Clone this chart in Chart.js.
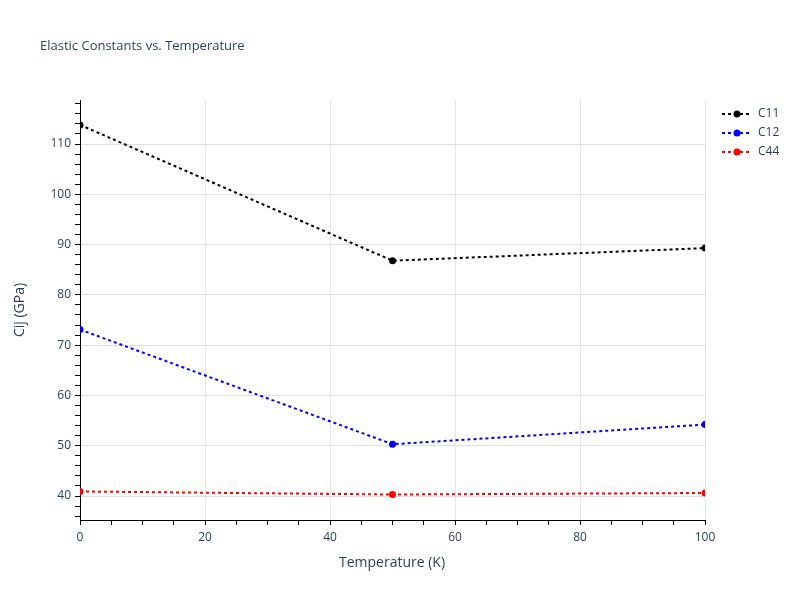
<!DOCTYPE html>
<html>
<head>
<meta charset="utf-8">
<script src="https://cdn.jsdelivr.net/npm/chart.js@4/dist/chart.umd.min.js"></script>
<style>
  html, body { margin: 0; padding: 0; background: #fff; }
  #wrap { width: 800px; height: 600px; position: relative; }
</style>
</head>
<body>
<div id="wrap"><canvas id="chart"></canvas></div>
<script>
// data
const temperatures = [0, 50, 100];
const c11 = [113.8, 86.8, 89.3];
const c12 = [73.1, 50.3, 54.2];
const c44 = [40.9, 40.3, 40.6];
const seriesNames = ["C11", "C12", "C44"];
const seriesColors = ["#000000", "#0000ff", "#ff0000"];

const titleText = "Elastic Constants vs. Temperature";
const xTitle = "Temperature (K)";
const yTitle = "Cij (GPa)";
const textColor = "#2a3f5f";
const fontFamily = "'Open Sans', 'Noto Sans', sans-serif";

function MakeTicks(from, to, step) {
  const out = [];
  for (let v = from; v <= to + 1e-9; v += step) out.push({ value: v });
  return out;
}

// legend + titles drawn by hand so they sit where plotly put them
const extrasPlugin = {
  id: "extras",
  afterDraw(chart) {
    const ctx = chart.ctx;
    ctx.save();
    ctx.fillStyle = textColor;
    ctx.textBaseline = "middle";
    ctx.font = "13px " + fontFamily;
    ctx.textAlign = "left";
    ctx.fillText(titleText, 40, 46);

    ctx.font = "14px " + fontFamily;
    ctx.textAlign = "center";
    ctx.fillText(xTitle, 392, 563);
    ctx.translate(20, 310);
    ctx.rotate(-Math.PI / 2);
    ctx.fillText(yTitle, 0, 0);
    ctx.restore();

    // legend
    ctx.save();
    chart.data.datasets.forEach((ds, i) => {
      const y = 114 + i * 19;
      ctx.strokeStyle = ds.borderColor;
      ctx.lineWidth = 2;
      ctx.setLineDash([3, 3]);
      ctx.beginPath();
      ctx.moveTo(722, y);
      ctx.lineTo(752, y);
      ctx.stroke();
      ctx.setLineDash([]);
      ctx.fillStyle = ds.borderColor;
      ctx.beginPath();
      ctx.arc(737, y, 3.5, 0, Math.PI * 2);
      ctx.fill();
      ctx.fillStyle = textColor;
      ctx.font = "12px " + fontFamily;
      ctx.textAlign = "left";
      ctx.textBaseline = "middle";
      ctx.fillText(ds.label, 758, y);
    });
    ctx.restore();
  },
};

const datasets = [c11, c12, c44].map((values, i) => ({
  label: seriesNames[i],
  data: temperatures.map((t, j) => ({ x: t, y: values[j] })),
  borderColor: seriesColors[i],
  backgroundColor: seriesColors[i],
  borderWidth: 2,
  borderDash: [3, 3],
  pointRadius: 3.5,
  pointHoverRadius: 3.5,
  pointBorderWidth: 0,
  tension: 0,
  fill: false,
}));

new Chart(document.getElementById("chart").getContext("2d"), {
  type: "line",
  data: { datasets },
  plugins: [extrasPlugin],
  options: {
    responsive: true,
    maintainAspectRatio: false,
    animation: false,
    layout: { padding: { top: 100, right: 95, left: 0, bottom: 0 } },
    plugins: { legend: { display: false }, tooltip: { enabled: false } },
    scales: {
      x: {
        type: "linear",
        min: 0,
        max: 100,
        afterBuildTicks: (scale) => { scale.ticks = MakeTicks(0, 100, 5); },
        afterFit: (scale) => { scale.height = 80; },
        border: { display: true, color: "#000", width: 1 },
        grid: {
          color: (c) => (c.tick && c.tick.value % 20 === 0 && c.tick.value !== 0 ? "#e5e5e5" : "rgba(0,0,0,0)"),
          lineWidth: 1,
          tickColor: "#000",
          tickLength: 5,
          drawTicks: true,
        },
        ticks: {
          autoSkip: false,
          maxRotation: 0,
          padding: 5,
          color: textColor,
          font: { family: fontFamily, size: 12 },
          callback: (v) => (v % 20 === 0 ? String(v) : ""),
        },
      },
      y: {
        type: "linear",
        min: 35.23,
        max: 118.75,
        afterBuildTicks: (scale) => { scale.ticks = MakeTicks(36, 118, 2); },
        afterFit: (scale) => { scale.width = 80; },
        border: { display: true, color: "#000", width: 1 },
        grid: {
          color: (c) => (c.tick && c.tick.value % 10 === 0 ? "#e0e0e0" : "rgba(0,0,0,0)"),
          lineWidth: 1,
          tickColor: "#000",
          tickLength: 5,
          drawTicks: true,
        },
        ticks: {
          autoSkip: false,
          padding: 4,
          color: textColor,
          font: { family: fontFamily, size: 12 },
          callback: (v) => (v % 10 === 0 ? String(v) : ""),
        },
      },
    },
  },
});
</script>
</body>
</html>
